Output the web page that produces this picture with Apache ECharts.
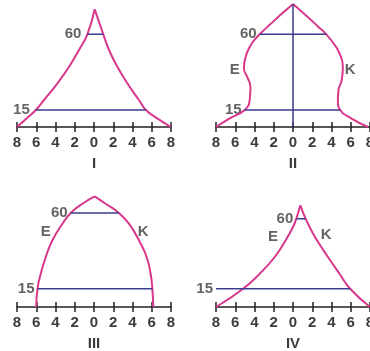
<!DOCTYPE html>
<html>
<head>
<meta charset="utf-8">
<script src="https://cdn.jsdelivr.net/npm/echarts@6/dist/echarts.min.js"></script>
<style>
html, body { margin: 0; padding: 0; background: #fff; }
#main { width: 370px; height: 351px; }
</style>
</head>
<body>
<div id="main"></div>
<script>
// base line ticks and the printed labels
const tickValues = [-8, -6, -4, -2, 0, 2, 4, 6, 8];
const tickLabels = ['8', '6', '4', '2', '0', '2', '4', '6', '8'];
const panelNames = ['I', 'II', 'III', 'IV'];
const levelNames = ['15', '60'];

// profiles, [x, height] (left side and right side of each outline)
const leftI = [[-8, 0], [-6.98, 8.7], [-6.05, 17], [-5.19, 27], [-3.8, 43.7], [-2.59, 60.3], [-1.56, 77], [-0.69, 92.7], [0.07, 117.7]];
const rightI = [[0.07, 117.7], [0.97, 92.7], [1.56, 77], [2.43, 60.3], [3.46, 43.7], [4.67, 27], [5.4, 17], [6.57, 8.7], [8, 0]];
const leftII = [[-8, 0], [-6.57, 8.7], [-5.02, 17], [-4.5, 27], [-4.42, 40.3], [-4.77, 50.3], [-5.1, 58.7], [-5.0, 67], [-4.66, 77], [-4.15, 85.3], [-3.46, 92.7], [-2.25, 103.7], [-1.11, 113.7], [0, 123]];
const rightII = [[0, 123], [1.5, 110.3], [2.62, 100.3], [3.45, 92.7], [4.21, 83.7], [4.83, 73.7], [5.18, 60.3], [5.06, 47], [4.73, 37], [4.66, 27], [4.9, 17], [6.04, 8.7], [7.8, 0]];
const leftIII = [[-6, 0], [-5.87, 18.3], [-5.53, 33.3], [-5.01, 50], [-4.32, 66.7], [-3.28, 83.3], [-2.42, 94], [-1.2, 103.3], [0.07, 110.7]];
const rightIII = [[0.07, 110.7], [1.21, 103.3], [2.59, 94], [3.63, 83.3], [4.67, 66.7], [5.47, 50], [5.88, 33.3], [6.06, 18.3], [6.16, 0]];
const leftIV = [[-8, 0], [-5.18, 18.3], [-3.46, 33.3], [-1.9, 50], [-0.76, 66.7], [0, 80], [0.34, 88.3], [0.76, 101.7]];
const rightIV = [[0.76, 101.7], [1.31, 88.3], [1.9, 76.7], [2.49, 66.7], [3.63, 50], [4.83, 33.3], [5.94, 18.3], [8, 0]];

// levels 15 and 60: [height, from, to]
const levelsI = [[17, -6.05, 5.4], [92.7, -0.69, 0.97]];
const levelsII = [[17, -5.02, 4.9], [92.7, -3.46, 3.45]];
const levelsIII = [[18.3, -5.87, 6.06], [94, -2.42, 2.59]];
const levelsIV = [[18.3, -8, 5.94], [88.3, 0.34, 1.31]];

// side letters
const marksII = [[-6.05, 57, 'E'], [5.94, 57, 'K']];
const marksIII = [[-5.0, 75, 'E'], [5.12, 75, 'K']];
const marksIV = [[-2.07, 70, 'E'], [3.45, 71.7, 'K']];

// vertical line of panel II
const axisII = [[0, 0], [0, 123]];

const PINK = '#d8388a';
const NAVY = '#3b3b8f';
const TEXT = '#3c3c3c';
const FONT = 'Liberation Sans, Arial, sans-serif';

const panels = [
    { left: leftI, right: rightI, levels: levelsI, marks: [], mid: null, gap: 6 },
    { left: leftII, right: rightII, levels: levelsII, marks: marksII, mid: axisII, gap: 3 },
    { left: leftIII, right: rightIII, levels: levelsIII, marks: marksIII, mid: null, gap: 3 },
    { left: leftIV, right: rightIV, levels: levelsIV, marks: marksIV, mid: null, gap: 3 }
];

const grids = [
    { left: 17, top: 2, width: 154, height: 125 },
    { left: 216, top: 2, width: 154, height: 125 },
    { left: 17, top: 182, width: 154, height: 125 },
    { left: 216, top: 182, width: 154, height: 125 }
];

let chart = echarts.init(document.getElementById('main'));

let xAxes = [];
let yAxes = [];
let series = [];

panels.forEach(function (p, i) {
    xAxes.push({
        gridIndex: i,
        type: 'value',
        min: -8,
        max: 8,
        interval: 2,
        position: 'bottom',
        splitLine: { show: false },
        axisLine: { show: true, onZero: false, lineStyle: { color: '#222', width: 1.5 } },
        axisTick: { show: true, length: 5, lineStyle: { color: '#222', width: 1.5 } },
        axisLabel: {
            margin: 8,
            fontSize: 15,
            fontWeight: 'bold',
            color: TEXT,
            fontFamily: FONT,
            formatter: function (v) {
                return tickLabels[tickValues.indexOf(v)];
            }
        },
        name: panelNames[i],
        nameLocation: 'middle',
        nameGap: 29,
        nameTextStyle: { fontSize: 15, fontWeight: 'bold', color: TEXT, fontFamily: FONT }
    });
    // ticks on the upper side of the base line
    xAxes.push({
        gridIndex: i,
        type: 'value',
        min: -8,
        max: 8,
        interval: 2,
        position: 'bottom',
        splitLine: { show: false },
        axisLine: { show: false, onZero: false },
        axisTick: { show: true, inside: true, length: 5, lineStyle: { color: '#222', width: 1.5 } },
        axisLabel: { show: false }
    });
    yAxes.push({ gridIndex: i, type: 'value', min: 0, max: 125, show: false });

    let common = { xAxisIndex: i * 2, yAxisIndex: i, silent: true, animation: false };

    [p.left, p.right].forEach(function (side) {
        series.push(Object.assign({
            type: 'line',
            data: side,
            smooth: 0.5,
            symbol: 'none',
            clip: false,
            lineStyle: { color: PINK, width: 2 }
        }, common));
    });

    p.levels.forEach(function (lv) {
        series.push(Object.assign({
            type: 'line',
            data: [[lv[1], lv[0]], [lv[2], lv[0]]],
            symbol: 'none',
            clip: false,
            lineStyle: { color: NAVY, width: 1.5 }
        }, common));
    });
    if (p.mid) {
        series.push(Object.assign({
            type: 'line',
            data: p.mid,
            symbol: 'none',
            clip: false,
            lineStyle: { color: NAVY, width: 1.5 }
        }, common));
    }

    // level names at the left end of each level line
    series.push(Object.assign({
        type: 'scatter',
        symbolSize: 0,
        clip: false,
        data: p.levels.map(function (lv, k) {
            return [lv[1], lv[0], levelNames[k]];
        }),
        label: {
            show: true,
            position: 'left',
            distance: p.gap,
            formatter: function (d) { return d.value[2]; },
            fontSize: 15,
            fontWeight: 'bold',
            color: TEXT,
            fontFamily: FONT
        }
    }, common));

    if (p.marks.length) {
        series.push(Object.assign({
            type: 'scatter',
            symbolSize: 0,
            clip: false,
            data: p.marks,
            label: {
                show: true,
                position: 'inside',
                formatter: function (d) { return d.value[2]; },
                fontSize: 15,
                fontWeight: 'bold',
                color: TEXT,
                fontFamily: FONT
            }
        }, common));
    }
});

let option = {
    animation: false,
    grid: grids.map(function (g) {
        return Object.assign({ outerBoundsMode: 'none', containLabel: false }, g);
    }),
    xAxis: xAxes,
    yAxis: yAxes,
    series: series
};

chart.setOption(option);
</script>
</body>
</html>
